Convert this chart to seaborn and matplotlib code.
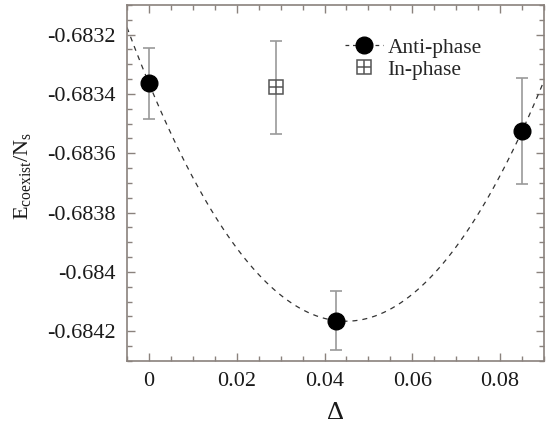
import numpy as np
import pandas as pd
import matplotlib
matplotlib.use("Agg")
import matplotlib.pyplot as plt
import seaborn as sns
from matplotlib.ticker import MultipleLocator
from matplotlib.legend_handler import HandlerTuple
from matplotlib.lines import Line2D

# Data
anti_delta = [0.0, 0.0427, 0.085]
anti_energy = [-0.683364, -0.684164, -0.683525]
anti_err = [0.00012, 0.0001, 0.00018]

in_delta = [0.0289]
in_energy = [-0.683378]
in_err = [0.000157]

x_ticks = [0, 0.02, 0.04, 0.06, 0.08]
x_tick_labels = ["0", "0.02", "0.04", "0.06", "0.08"]
y_ticks = [-0.6832, -0.6834, -0.6836, -0.6838, -0.684, -0.6842]
y_tick_labels = ["-0.6832", "-0.6834", "-0.6836", "-0.6838", "-0.684", "-0.6842"]

sns.set_style("ticks")
plt.rcParams["font.family"] = ["Liberation Serif", "DejaVu Serif"]
plt.rcParams["mathtext.fontset"] = "custom"
plt.rcParams["mathtext.rm"] = "Liberation Serif"
plt.rcParams["mathtext.it"] = "Liberation Serif:italic"

spine_c = "#8a827d"
err_c = "#9a9a9a"

fig = plt.figure(figsize=(5.51, 4.24), dpi=100)
ax = fig.add_axes([127 / 551, 1 - 361 / 424, (544 - 127) / 551, (361 - 5) / 424])
ax.set_xlim(-0.005, 0.09)
ax.set_ylim(-0.6843, -0.6831)

df = pd.DataFrame({"delta": anti_delta, "energy": anti_energy})
sns.regplot(data=df, x="delta", y="energy", order=2, ci=None, scatter=False,
            truncate=False, ax=ax,
            line_kws=dict(color="#333333", lw=0.9, linestyle=(0, (4, 4))))
ax.set_xlim(-0.005, 0.09)
ax.set_ylim(-0.6843, -0.6831)

ax.errorbar(anti_delta, anti_energy, yerr=anti_err, fmt="none", ecolor=err_c,
            elinewidth=1.2, capsize=4, capthick=1.2, zorder=3)
ax.plot(anti_delta, anti_energy, "o", color="black", markersize=12, zorder=4)

ax.errorbar(in_delta, in_energy, yerr=in_err, fmt="none", ecolor=err_c,
            elinewidth=1.2, capsize=4, capthick=1.2, zorder=3)
ax.plot(in_delta, in_energy, "s", markerfacecolor="white", markeredgecolor="#555555",
        markersize=10, markeredgewidth=1.1, zorder=4)
ax.plot(in_delta, in_energy, "+", color="#555555", markersize=10,
        markeredgewidth=1.1, zorder=5)

ax.set_xticks(x_ticks)
ax.set_xticklabels(x_tick_labels)
ax.set_yticks(y_ticks)
ax.set_yticklabels(y_tick_labels)
ax.xaxis.set_minor_locator(MultipleLocator(0.005))
ax.yaxis.set_minor_locator(MultipleLocator(0.00005))
ax.tick_params(which="both", direction="in", top=True, right=True,
               color=spine_c, width=1.0, labelsize=16, labelcolor="#1a1a1a")
ax.tick_params(which="major", length=6, pad=8)
ax.tick_params(which="minor", length=3.5)
for s in ax.spines.values():
    s.set_color(spine_c)
    s.set_linewidth(1.2)

ax.set_xlabel("Δ", fontsize=19, color="#1a1a1a", labelpad=8)
ax.set_ylabel(r"$\mathrm{E_{coexist}/N_s}$", fontsize=16, color="#1a1a1a")
ax.yaxis.set_label_coords(-0.225, 0.52)

h_anti = Line2D([], [], color="#333333", lw=0.9, linestyle=(0, (3, 3)),
                marker="o", markersize=12, markerfacecolor="black", markeredgecolor="black")
h_sq = Line2D([], [], lw=0, marker="s", markerfacecolor="white", markeredgecolor="#555555",
              markersize=10, markeredgewidth=1.1)
h_pl = Line2D([], [], lw=0, marker="+", color="#555555", markersize=10, markeredgewidth=1.1)
leg = ax.legend([h_anti, (h_sq, h_pl)], ["Anti-phase", "In-phase"],
                handler_map={tuple: HandlerTuple(ndivide=1)},
                loc="upper left", bbox_to_anchor=(0.493, 0.945), frameon=False,
                fontsize=15.5, handlelength=1.75, handletextpad=0.2, labelspacing=0.1,
                borderaxespad=0.2)

fig.savefig("out.png", dpi=100)
